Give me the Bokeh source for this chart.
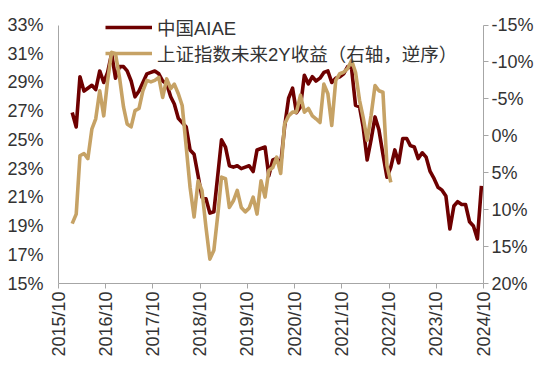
import math
import pandas as pd
from bokeh.plotting import figure
from bokeh.models import (Range1d, LinearAxis, FixedTicker, Legend, LegendItem,
                          PrintfTickFormatter, DatetimeTickFormatter)
from bokeh.embed import file_html
from bokeh.resources import INLINE

# ---- data (monthly, from 2016-01) ----
aiae = [26.9, 25.9, 29.4, 28.4, 28.6, 28.8, 28.5, 29.8, 29.0, 29.7,
        31.0, 29.3, 30.1, 30.1, 29.8, 29.1, 28.0, 28.4, 29.0, 29.6,
        29.7, 29.8, 29.6, 29.1, 28.9, 28.0, 27.5, 26.5, 26.2, 25.9,
        24.3, 24.0, 22.5, 21.0, 20.9, 19.9, 20.0, 22.6, 25.0, 24.5,
        23.2, 23.1, 23.2, 23.0, 23.1, 23.2, 22.8, 24.3, 24.4, 24.5,
        22.5, 23.6, 23.7, 23.3, 25.9, 27.9, 28.6, 26.9, 27.3, 29.5,
        28.9, 29.4, 29.1, 29.3, 29.7, 29.8, 29.0, 29.3, 29.4, 29.6,
        30.1, 30.0, 27.4, 27.3, 25.9, 23.6, 25.0, 26.6, 25.7, 24.0,
        22.4, 23.1, 24.3, 23.4, 25.1, 25.1, 24.6, 24.5, 23.7, 24.1,
        23.8, 22.8, 22.3, 21.7, 21.5, 21.1, 18.8, 20.4, 20.7, 20.5,
        20.5, 19.3, 19.0, 18.1, 21.8]

sh_2y_return = [11.9, 10.6, 2.7, 2.4, 3.1, -0.9, -2.3, -6.1, -2.7, -7.5,
                -11.3, -11.1, -7.9, -3.9, -1.6, -1.2, -3.4, -3.7, -6.1, -7.5,
                -7.3, -7.5, -7.9, -5.2, -7.7, -6.4, -7.0, -5.7, -4.1, 1.5,
                7.0, 11.0, 6.1, 7.4, 12.4, 16.7, 15.5, 10.6, 5.6, 5.8,
                9.7, 8.8, 7.4, 9.7, 10.3, 9.8, 8.3, 10.6, 6.1, 8.3,
                4.7, 4.3, 2.9, 5.1, -1.6, -2.7, -3.2, -3.2, -5.5, -3.2,
                -3.7, -2.7, -2.3, -1.8, -7.0, -5.7, -1.4, -7.5, -8.4, -8.6,
                -9.1, -10.2, -8.6, -4.8, -2.5, 0.6, -2.7, -6.8, -6.1, -5.9,
                4.0, 6.3]

start_month = "2016-01-01"
tick_labels = ["2015/10", "2016/10", "2017/10", "2018/10", "2019/10",
               "2020/10", "2021/10", "2022/10", "2023/10", "2024/10"]
left_ticks = [15, 17, 19, 21, 23, 25, 27, 29, 31, 33]
right_ticks = [-15, -10, -5, 0, 5, 10, 15, 20]
series_names = ["中国AIAE", "上证指数未来2Y收益（右轴，逆序）"]

# ---- build ----
aiae_dates = pd.date_range(start_month, periods=len(aiae), freq="MS") + pd.Timedelta(days=14)
ret_dates = pd.date_range(start_month, periods=len(sh_2y_return), freq="MS") + pd.Timedelta(days=14)
tick_dates = [pd.Timestamp(l.replace("/", "-") + "-01") for l in tick_labels]
tick_ms = [t.value // 10**6 for t in tick_dates]

DARK = "#6E0000"
GOLD = "#C6A265"
TXT = "#333333"
AX = "#A6A6A6"
FONT = "Liberation Sans, Noto Sans CJK SC"

# frame: 58..483 px wide, 8..283 px tall; 33% / -15% sit 16.5 px below frame top
TOP_PAD_PX = 16.5
AXIS_PX = 258.5
l_span = left_ticks[-1] - left_ticks[0]
r_span = right_ticks[-1] - right_ticks[0]
l_end = left_ticks[-1] + TOP_PAD_PX * l_span / AXIS_PX
r_end = right_ticks[0] - TOP_PAD_PX * r_span / AXIS_PX

p = figure(width=550, height=376, x_axis_type="datetime",
           output_backend="svg", toolbar_location=None,
           x_range=Range1d(tick_dates[0], tick_dates[-1]),
           y_range=Range1d(left_ticks[0], l_end),
           min_border_left=58, min_border_right=67,
           min_border_top=8, min_border_bottom=93)
p.outline_line_color = None
p.xgrid.visible = False
p.ygrid.visible = False
p.background_fill_color = "white"
p.border_fill_color = "white"

p.extra_y_ranges = {"ret": Range1d(start=right_ticks[-1], end=r_end)}

r1 = p.line(aiae_dates, aiae, line_color=DARK, line_width=3.6, line_join="round")
r2 = p.line(ret_dates, sh_2y_return, line_color=GOLD, line_width=3.6,
            line_join="round", y_range_name="ret")

# x axis
xa = p.xaxis[0]
xa.ticker = FixedTicker(ticks=tick_ms)
xa.formatter = DatetimeTickFormatter(days="%Y/%m", months="%Y/%m", years="%Y/%m")
xa.major_label_orientation = math.pi / 2
xa.major_label_text_font = FONT
xa.major_label_text_font_size = "18px"
xa.major_label_text_color = TXT
xa.axis_line_color = AX
xa.major_tick_line_color = AX
xa.major_tick_out = 5
xa.major_tick_in = 0
xa.minor_tick_line_color = None
xa.major_label_standoff = 3

# left axis
ya = p.yaxis[0]
ya.ticker = FixedTicker(ticks=left_ticks)
ya.formatter = PrintfTickFormatter(format="%d%%")
ya.bounds = (left_ticks[0], left_ticks[-1])
ya.major_label_text_font = FONT
ya.major_label_text_font_size = "18px"
ya.major_label_text_color = TXT
ya.axis_line_color = AX
ya.major_tick_line_color = None
ya.major_tick_out = 0
ya.major_tick_in = 0
ya.minor_tick_line_color = None
ya.major_label_standoff = 15

# right axis
ra = LinearAxis(y_range_name="ret", ticker=FixedTicker(ticks=right_ticks),
                formatter=PrintfTickFormatter(format="%d%%"),
                bounds=(right_ticks[0], right_ticks[-1]))
ra.major_label_text_font = FONT
ra.major_label_text_font_size = "18px"
ra.major_label_text_color = TXT
ra.axis_line_color = AX
ra.major_tick_line_color = AX
ra.major_tick_out = 5
ra.major_tick_in = 0
ra.minor_tick_line_color = None
ra.major_label_standoff = 3
p.add_layout(ra, "right")

legend = Legend(items=[LegendItem(label=series_names[0], renderers=[r1]),
                       LegendItem(label=series_names[1], renderers=[r2])],
                location=(47, 217), orientation="vertical",
                glyph_width=47, glyph_height=20, label_height=20,
                label_standoff=5, spacing=0, padding=0, margin=0,
                border_line_color=None, background_fill_alpha=0,
                label_text_font=FONT, label_text_font_size="18.5px",
                label_text_color=TXT)
p.add_layout(legend)

open("out.html", "w").write(file_html(p, INLINE))
